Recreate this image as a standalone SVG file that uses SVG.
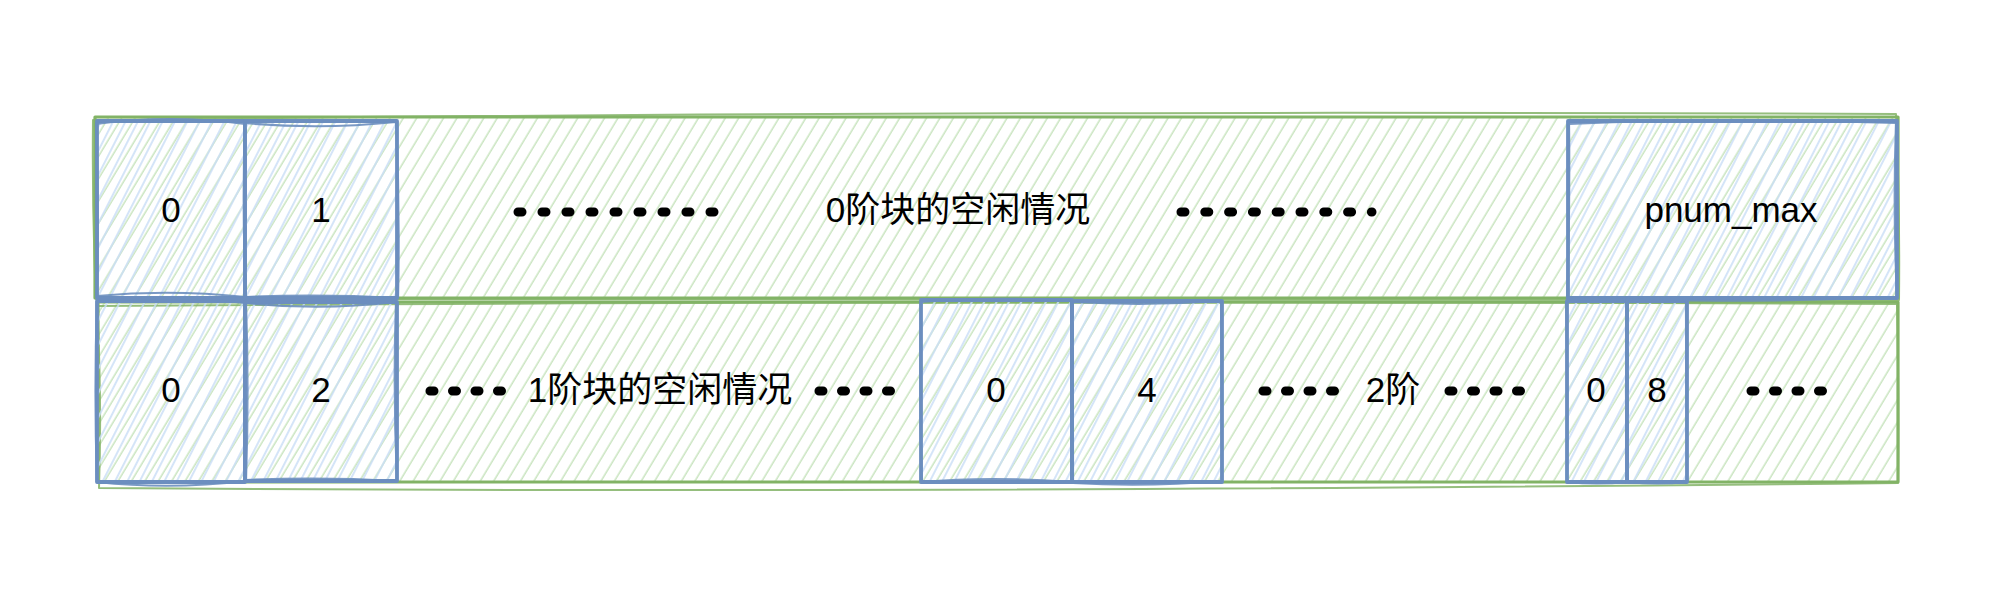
<svg xmlns="http://www.w3.org/2000/svg" width="1998" height="600" viewBox="0 0 1998 600">
  <defs>
    <pattern id="hatchG" patternUnits="userSpaceOnUse" width="11.5" height="20" patternTransform="rotate(31)">
      <line x1="4" y1="0" x2="4" y2="20" stroke="#c9e4bf" stroke-width="1.5"/>
    </pattern>
    <pattern id="hatchB" patternUnits="userSpaceOnUse" width="11" height="20" patternTransform="rotate(27)">
      <line x1="2" y1="0" x2="2" y2="20" stroke="#cadef6" stroke-width="1.6"/>
    </pattern>
  </defs>
  <style>
    .gbox { fill: url(#hatchG); stroke: #82b366; stroke-width: 3.2; stroke-linejoin: round; }
    .gsk { fill: none; stroke: #82b366; stroke-width: 2; stroke-linejoin: round; opacity: 0.85; }
    .bbox { fill: url(#hatchB); stroke: #6c8ebf; stroke-width: 3.8; stroke-linejoin: round; }
    .bsk { fill: none; stroke: #6c8ebf; stroke-width: 2.2; stroke-linejoin: round; opacity: 0.9; }
    .lbl { font-family: "Liberation Sans", Arial, "Noto Sans CJK SC", sans-serif; font-size: 35px; fill: #000000; text-anchor: middle; }
    .dots { fill: none; stroke: #000000; stroke-width: 9; stroke-linecap: round; stroke-dasharray: 4 20; }
    .dots4 { fill: none; stroke: #000000; stroke-width: 9; stroke-linecap: round; stroke-dasharray: 4 18.5; }
  </style>

  <!-- background rows -->
  <g id="row0">
    <rect class="gbox" x="95" y="117" width="1803" height="181"/>
    <path class="gsk" d="M93 120 Q900 110 1896 114 Q1900 210 1899 300 Q900 296 96 299 Q92 210 93 120 Z"/>
    <text class="lbl" x="958" y="222">0阶块的空闲情况</text>
  </g>
  <g id="row1">
    <rect class="gbox" x="98" y="302" width="1800" height="180"/>
    <path class="gsk" d="M97 306 Q900 300 1897 304 Q1899 400 1898 483 Q900 494 99 488 Q102 400 97 306 Z"/>
    <text class="lbl" x="660" y="402">1阶块的空闲情况</text>
    <text class="lbl" x="1393" y="402">2阶</text>
  </g>

  <!-- top row cells -->
  <g id="c0-0">
    <rect class="bbox" x="97" y="121" width="148" height="177"/>
    <path class="bsk" d="M96 124 Q170 114 245 124 Q243 210 246 297 Q170 289 97 296 Q99 210 96 124 Z"/>
    <text class="lbl" x="171" y="222">0</text>
  </g>
  <g id="c0-1">
    <rect class="bbox" x="245" y="121" width="152" height="177"/>
    <path class="bsk" d="M245 123 Q320 130 396 122 Q400 210 398 298 Q320 294 246 297 Q242 210 245 123 Z"/>
    <text class="lbl" x="321" y="222">1</text>
  </g>
  <g id="c0-max">
    <rect class="bbox" x="1568" y="121" width="329" height="177"/>
    <path class="bsk" d="M1569 124 Q1730 117 1896 123 Q1893 210 1897 297 Q1730 304 1567 298 Q1570 210 1569 124 Z"/>
    <text class="lbl" x="1731" y="222">pnum_max</text>
  </g>

  <!-- lower row cells -->
  <g id="c1-0">
    <rect class="bbox" x="97" y="301" width="148" height="181"/>
    <path class="bsk" d="M97 302 Q170 294 245 303 Q244 390 246 481 Q170 490 97 482 Q94 390 97 302 Z"/>
    <text class="lbl" x="171" y="402">0</text>
  </g>
  <g id="c1-2">
    <rect class="bbox" x="245" y="302" width="152" height="179"/>
    <path class="bsk" d="M246 303 Q320 311 396 302 Q393 390 397 481 Q320 477 246 480 Q249 390 246 303 Z"/>
    <text class="lbl" x="321" y="402">2</text>
  </g>
  <g id="c1-0b">
    <rect class="bbox" x="921" y="300" width="151" height="182"/>
    <path class="bsk" d="M921 302 Q990 296 1071 301 Q1072 390 1072 482 Q990 476 922 482 Q919 390 921 302 Z"/>
    <text class="lbl" x="996" y="402">0</text>
  </g>
  <g id="c1-4">
    <rect class="bbox" x="1072" y="301" width="150" height="181"/>
    <path class="bsk" d="M1072 302 Q1147 306 1221 301 Q1222 390 1222 481 Q1147 487 1073 483 Q1073 390 1072 302 Z"/>
    <text class="lbl" x="1147" y="402">4</text>
  </g>
  <g id="c1-0c">
    <rect class="bbox" x="1567" y="301" width="60" height="181"/>
    <path class="bsk" d="M1566 302 Q1597 300 1626 302 Q1628 390 1627 482 Q1597 485 1567 482 Q1568 390 1566 302 Z"/>
    <text class="lbl" x="1596" y="402">0</text>
  </g>
  <g id="c1-8">
    <rect class="bbox" x="1627" y="301" width="60" height="181"/>
    <path class="bsk" d="M1628 302 Q1657 295 1686 301 Q1686 390 1687 482 Q1657 485 1628 482 Q1624 390 1628 302 Z"/>
    <text class="lbl" x="1657" y="402">8</text>
  </g>

  <!-- connectors (dotted lines) -->
  <g id="connectors">
    <path class="dots" d="M518 212 L714 212"/>
    <path class="dots" d="M1181 212 L1372 212" style="stroke-dasharray: 4 19.8"/>
    <path class="dots4" d="M430 391 L504 391"/>
    <path class="dots4" d="M819 391 L893 391"/>
    <path class="dots4" d="M1263 391 L1337 391"/>
    <path class="dots4" d="M1449 391 L1523 391"/>
    <path class="dots4" d="M1751 391 L1825 391"/>
  </g>
</svg>
